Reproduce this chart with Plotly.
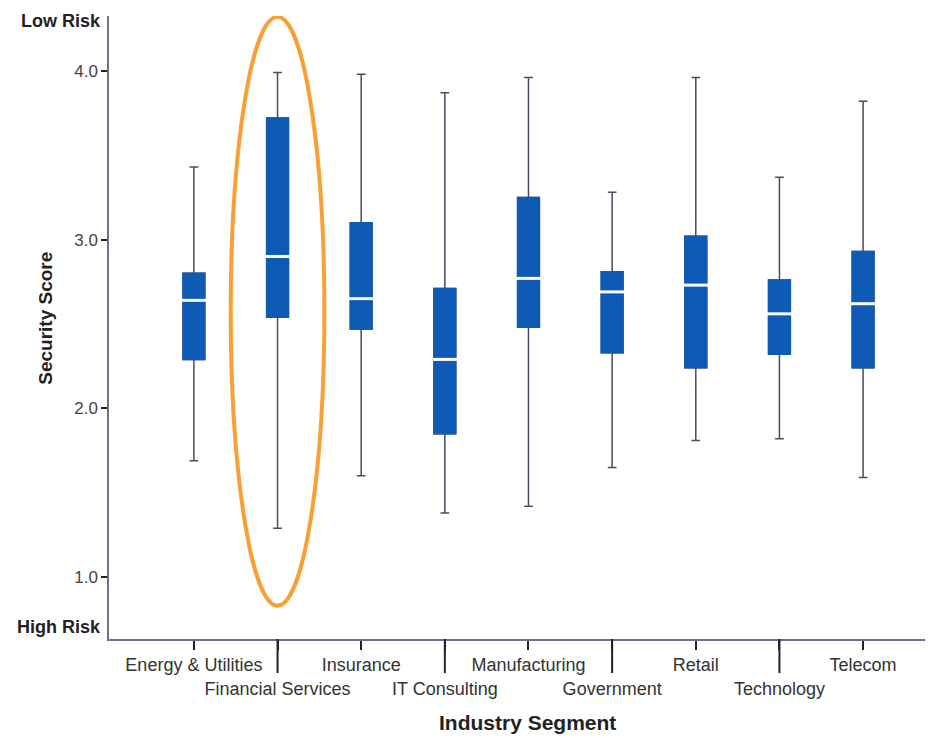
import plotly.graph_objects as go

categories = ["Energy & Utilities", "Financial Services", "Insurance", "IT Consulting",
              "Manufacturing", "Government", "Retail", "Technology", "Telecom"]
lower_whisker = [1.69, 1.29, 1.60, 1.38, 1.42, 1.65, 1.81, 1.82, 1.59]
q1_values = [2.29, 2.54, 2.47, 1.85, 2.48, 2.33, 2.24, 2.32, 2.24]
median_values = [2.64, 2.90, 2.65, 2.29, 2.77, 2.69, 2.73, 2.56, 2.62]
q3_values = [2.80, 3.72, 3.10, 2.71, 3.25, 2.81, 3.02, 2.76, 2.93]
upper_whisker = [3.43, 3.99, 3.98, 3.87, 3.96, 3.28, 3.96, 3.37, 3.82]
y_tick_values = [1.0, 2.0, 3.0, 4.0]
y_tick_labels = ["1.0", "2.0", "3.0", "4.0"]
highlight_category = "Financial Services"
highlight_y_span = [0.83, 4.32]

BLUE = "#0E5AB4"
WHISKER = "#4B4B62"
AXIS = "#6E6E92"
ORANGE = "#F8A035"
FONT = "Liberation Sans, Arial, sans-serif"

xs = list(range(len(categories)))
BOX_W = 0.26

fig = go.Figure()
# whiskers (dark) + box
fig.add_trace(go.Box(
    x=xs, q1=q1_values, median=median_values, q3=q3_values,
    lowerfence=lower_whisker, upperfence=upper_whisker,
    width=BOX_W, whiskerwidth=0.4,
    line=dict(color=WHISKER, width=1.5), fillcolor=BLUE,
    boxpoints=False, showlegend=False, hoverinfo="skip"))
# blue box overlay hiding dark outline
fig.add_trace(go.Box(
    x=xs, q1=q1_values, median=median_values, q3=q3_values,
    lowerfence=q1_values, upperfence=q3_values,
    width=BOX_W, whiskerwidth=0,
    line=dict(color=BLUE, width=1.5), fillcolor=BLUE,
    boxpoints=False, showlegend=False, hoverinfo="skip"))
# white medians
fig.add_trace(go.Scatter(
    x=xs, y=median_values, mode="markers",
    marker=dict(symbol="line-ew", size=21, line=dict(color="white", width=3)),
    showlegend=False, hoverinfo="skip"))

ticktext = [c if i % 2 == 0 else "<br>" + c for i, c in enumerate(categories)]

fig.update_layout(
    width=925, height=730,
    margin=dict(l=101, r=3, t=8, b=99),
    paper_bgcolor="white", plot_bgcolor="white",
    boxmode="overlay",
    font=dict(family=FONT, size=15, color="#333"),
    xaxis=dict(
        range=[-1.015, 8.8], tickmode="array", tickvals=xs, ticktext=ticktext,
        tickangle=0, automargin=False,
        showline=True, linecolor=AXIS, linewidth=1.5, showgrid=False, zeroline=False,
        ticks="outside", ticklen=9, tickwidth=2, tickcolor="#222",
        tickfont=dict(family=FONT, size=18, color="#333")),
    yaxis=dict(
        range=[0.633, 4.325], tickmode="array", tickvals=y_tick_values, ticktext=y_tick_labels,
        automargin=False,
        showline=True, linecolor=AXIS, linewidth=1.5, showgrid=False, zeroline=False,
        ticks="outside", ticklen=6, tickwidth=2, tickcolor="#222",
        tickfont=dict(family=FONT, size=17, color="#444")),
)

# long ticks for second-row labels
for i in xs:
    if i % 2 == 1:
        fig.add_shape(type="line", xref="x", yref="paper", x0=i, x1=i,
                      ysizemode="pixel", yanchor=0, y0=0, y1=-34,
                      line=dict(color="#222", width=2))

# highlight ellipse
hi = categories.index(highlight_category)
fig.add_shape(type="circle", xref="x", yref="y",
              x0=hi - 0.56, x1=hi + 0.56,
              y0=highlight_y_span[0], y1=highlight_y_span[1],
              line=dict(color=ORANGE, width=4), layer="above")

# risk labels
fig.add_annotation(text="<b>Low Risk</b>", xref="paper", yref="paper", x=0, y=1,
                   xanchor="right", yanchor="middle", xshift=-6, yshift=-5,
                   showarrow=False, font=dict(family=FONT, size=18, color="#222"))
fig.add_annotation(text="<b>High Risk</b>", xref="paper", yref="paper", x=0, y=0,
                   xanchor="right", yanchor="middle", xshift=-6, yshift=12,
                   showarrow=False, font=dict(family=FONT, size=18, color="#222"))
# axis titles
fig.add_annotation(text="<b>Security Score</b>", xref="paper", yref="paper", x=0, y=0.514,
                   xanchor="center", yanchor="middle", xshift=-63, textangle=-90,
                   showarrow=False, font=dict(family=FONT, size=19, color="#222"))
fig.add_annotation(text="<b>Industry Segment</b>", xref="paper", yref="paper", x=0.51, y=0,
                   xanchor="center", yanchor="middle", yshift=-83,
                   showarrow=False, font=dict(family=FONT, size=21, color="#222"))

fig.write_html("out.html")
